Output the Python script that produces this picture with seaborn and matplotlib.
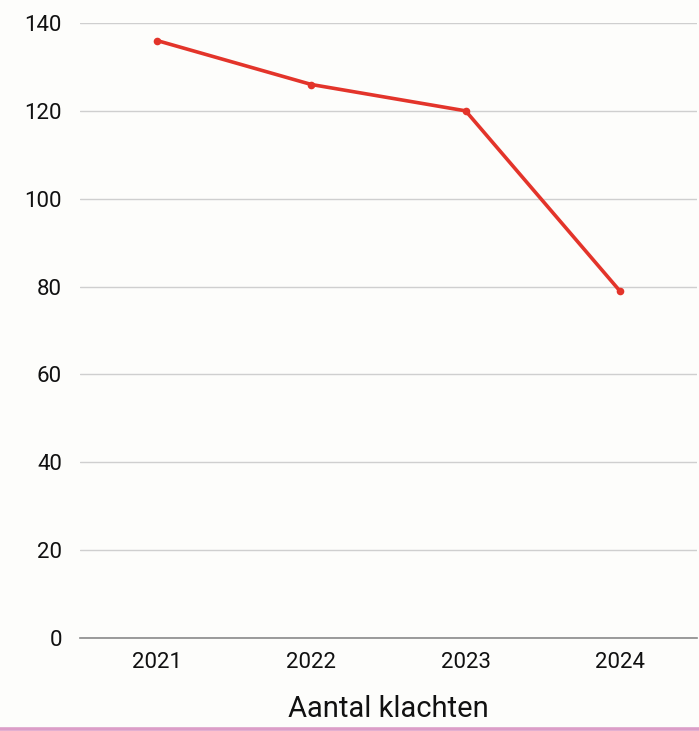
import matplotlib
matplotlib.use("Agg")
import matplotlib.pyplot as plt
import seaborn as sns
import pandas as pd
from matplotlib.lines import Line2D

years = ["2021", "2022", "2023", "2024"]
klachten = [136, 126, 120, 79]
y_ticks = [0, 20, 40, 60, 80, 100, 120, 140]
title = "Aantal klachten"

df = pd.DataFrame({"jaar": years, "klachten": klachten})

sns.set_theme(style="white")
plt.rcParams["font.family"] = ["Roboto", "DejaVu Sans"]

bg = "#fdfdfb"
fig = plt.figure(figsize=(6.99, 7.31), dpi=100, facecolor=bg)
ax = fig.add_axes([80 / 699, 1 - 638 / 731, 617 / 699, (638 - 23) / 731])
ax.set_facecolor(bg)

sns.lineplot(data=df, x="jaar", y="klachten", ax=ax, color="#e3342a",
             linewidth=2.6, marker="o", markersize=5.5, markeredgewidth=0,
             sort=False)

ax.set_xlim(-0.5, 3.5)
ax.set_ylim(0, 140)
ax.set_yticks(y_ticks)
ax.yaxis.grid(True, color="#cfcfcf", linewidth=1.0)
ax.xaxis.grid(False)
ax.set_axisbelow(True)
for s in ["top", "right", "left"]:
    ax.spines[s].set_visible(False)
ax.spines["bottom"].set_color("#8a8a8a")
ax.spines["bottom"].set_linewidth(1.2)
ax.tick_params(axis="y", length=0, pad=13, labelsize=16, labelcolor="#111111")
ax.tick_params(axis="x", length=0, pad=10, labelsize=16, labelcolor="#111111")
ax.set_xlabel(title, fontsize=21, color="#111111", labelpad=16)
ax.set_ylabel("")

fig.add_artist(Line2D([0, 1], [1.8 / 731, 1.8 / 731], transform=fig.transFigure,
                      color="#dc9ec8", linewidth=2.6))

fig.savefig("out.png", dpi=100, facecolor=bg)
